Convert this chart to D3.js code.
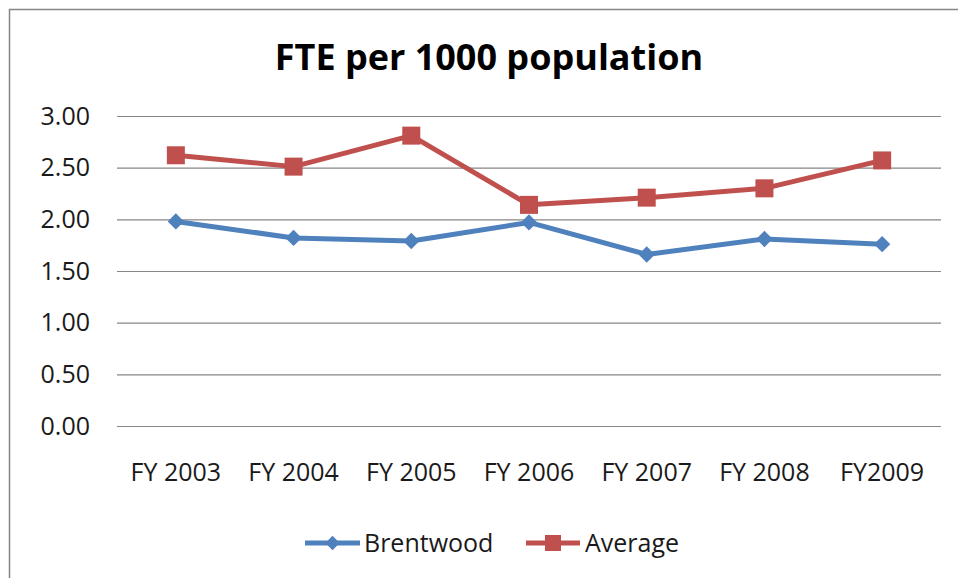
<!DOCTYPE html>
<html>
<head>
<meta charset="utf-8">
<script src="https://cdn.jsdelivr.net/npm/d3@7/dist/d3.min.js"></script>
<style>
  html, body { margin: 0; padding: 0; background: #fff; }
  svg { display: block; font-family: "Open Sans", sans-serif; }
</style>
</head>
<body>
<script>
const categories = ["FY 2003", "FY 2004", "FY 2005", "FY 2006", "FY 2007", "FY 2008", "FY2009"];
const brentwood = [1.98, 1.82, 1.79, 1.97, 1.66, 1.81, 1.76];
const average = [2.62, 2.51, 2.81, 2.14, 2.21, 2.30, 2.57];
const yTicks = [0, 0.5, 1, 1.5, 2, 2.5, 3];
const seriesNames = ["Brentwood", "Average"];
const title = "FTE per 1000 population";

const W = 958, H = 578;
const svg = d3.select("body").append("svg").attr("width", W).attr("height", H);

// chart border
svg.append("rect")
  .attr("x", 9.5).attr("y", 9.5).attr("width", W + 10).attr("height", H + 10)
  .attr("fill", "#fff").attr("stroke", "#868686").attr("stroke-width", 1.5);

const plot = { left: 117, right: 941, top: 116, bottom: 426 };

const x = d3.scaleBand().domain(categories).range([plot.left, plot.right]).padding(0);
const y = d3.scaleLinear().domain([0, 3]).range([plot.bottom, plot.top]);

// title
svg.append("text")
  .attr("x", 489).attr("y", 70)
  .attr("text-anchor", "middle")
  .attr("font-size", 36).attr("font-weight", "bold").attr("fill", "#000")
  .text(title);

// gridlines + y axis
const yAxis = d3.axisLeft(y).tickValues(yTicks).tickFormat(d3.format(".2f"))
  .tickSize(-(plot.right - plot.left)).tickPadding(27);
const gy = svg.append("g").attr("transform", `translate(${plot.left},0)`).call(yAxis);
gy.select(".domain").remove();
gy.selectAll(".tick line").attr("stroke", "#868686").attr("stroke-width", 1.2);
gy.selectAll(".tick text").attr("font-size", 25).attr("fill", "#1a1a1a")
  .attr("font-family", "'Open Sans', sans-serif");

// x axis labels
const xAxis = d3.axisBottom(x).tickSize(0).tickPadding(0);
const gx = svg.append("g").attr("transform", `translate(0,${plot.bottom})`).call(xAxis);
gx.select(".domain").remove();
gx.selectAll(".tick text").attr("font-size", 25).attr("fill", "#1a1a1a")
  .attr("font-family", "'Open Sans', sans-serif")
  .attr("dy", null).attr("y", 55);

const colors = { Brentwood: "#4F81BD", Average: "#C0504D" };
const data = { Brentwood: brentwood, Average: average };
const cx = c => x(c) + x.bandwidth() / 2;

const line = d3.line().x((d, i) => cx(categories[i])).y(d => y(d));

seriesNames.forEach(name => {
  svg.append("path").datum(data[name])
    .attr("d", line).attr("fill", "none")
    .attr("stroke", colors[name]).attr("stroke-width", 5)
    .attr("stroke-linejoin", "round");
});

// markers
const diamond = d3.symbol().type(d3.symbolDiamond2).size(170);
svg.append("g").selectAll("path").data(brentwood).join("path")
  .attr("d", diamond)
  .attr("transform", (d, i) => `translate(${cx(categories[i])},${y(d)})`)
  .attr("fill", colors.Brentwood);

svg.append("g").selectAll("rect").data(average).join("rect")
  .attr("x", (d, i) => cx(categories[i]) - 9)
  .attr("y", d => y(d) - 9)
  .attr("width", 18).attr("height", 18)
  .attr("fill", colors.Average);

// legend
const legY = 543;
const legendItems = [
  { name: "Brentwood", x0: 305, x1: 360, tx: 364 },
  { name: "Average", x0: 526, x1: 580, tx: 585 }
];
legendItems.forEach(it => {
  svg.append("line").attr("x1", it.x0).attr("x2", it.x1)
    .attr("y1", legY).attr("y2", legY)
    .attr("stroke", colors[it.name]).attr("stroke-width", 5);
  const mx = (it.x0 + it.x1) / 2;
  if (it.name === "Brentwood") {
    svg.append("path").attr("d", d3.symbol().type(d3.symbolDiamond2).size(130)())
      .attr("transform", `translate(${mx},${legY})`).attr("fill", colors[it.name]);
  } else {
    svg.append("rect").attr("x", mx - 8).attr("y", legY - 8)
      .attr("width", 16).attr("height", 16).attr("fill", colors[it.name]);
  }
  svg.append("text").attr("x", it.tx).attr("y", 552)
    .attr("font-size", 25).attr("fill", "#1a1a1a").text(it.name);
});
</script>
</body>
</html>
